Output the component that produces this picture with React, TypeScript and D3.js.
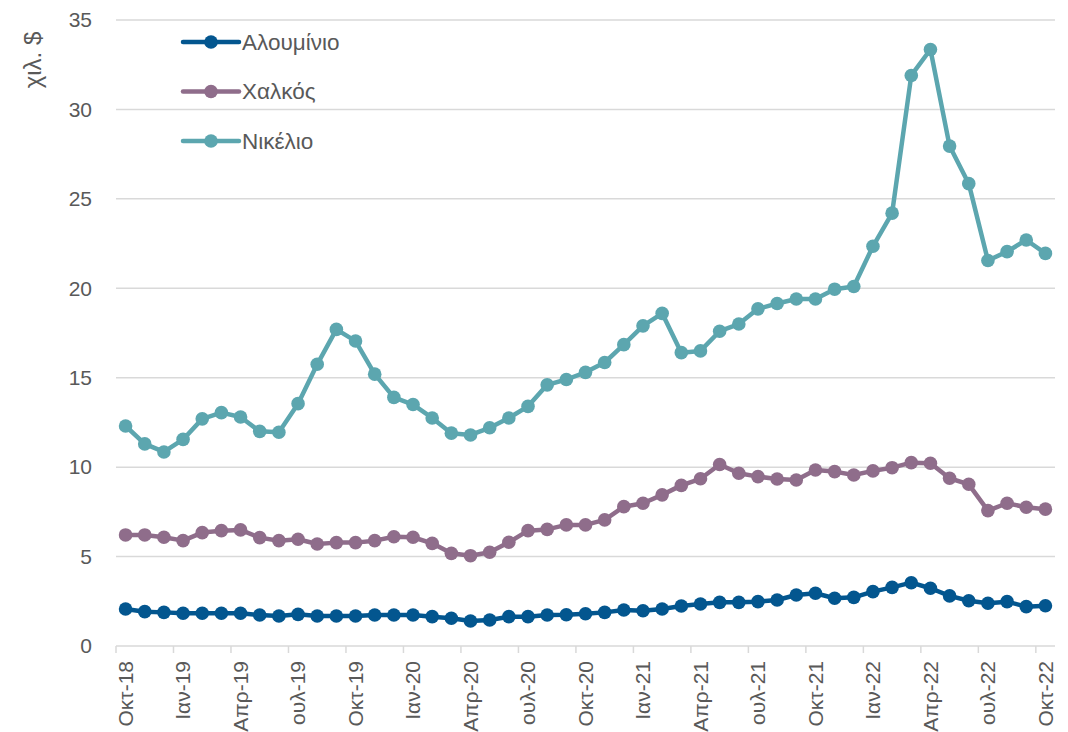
import * as d3 from "d3";

const tickLabels = [
  "Οκτ-18", "Ιαν-19", "Απρ-19", "ουλ-19",
  "Οκτ-19", "Ιαν-20", "Απρ-20", "ουλ-20",
  "Οκτ-20", "Ιαν-21", "Απρ-21", "ουλ-21",
  "Οκτ-21", "Ιαν-22", "Απρ-22", "ουλ-22",
  "Οκτ-22",
];

// monthly, Oct-18 .. Oct-22
const aluminium = [
  2.07, 1.92, 1.88, 1.83, 1.83, 1.83, 1.83, 1.73, 1.68, 1.77,
  1.68, 1.68, 1.68, 1.73, 1.73, 1.73, 1.64, 1.55, 1.4, 1.45,
  1.64, 1.64, 1.73, 1.75, 1.8, 1.88, 2.01, 1.97, 2.07, 2.24,
  2.35, 2.44, 2.44, 2.48, 2.57, 2.85, 2.95, 2.67, 2.72, 3.04,
  3.28, 3.54, 3.23, 2.8, 2.53, 2.39, 2.48, 2.2, 2.25,
];

const copper = [
  6.21, 6.21, 6.08, 5.89, 6.34, 6.45, 6.49, 6.06, 5.89, 5.97,
  5.7, 5.78, 5.78, 5.89, 6.11, 6.08, 5.74, 5.18, 5.05, 5.24,
  5.8, 6.45, 6.52, 6.77, 6.77, 7.05, 7.79, 7.98, 8.45, 8.98,
  9.35, 10.15, 9.66, 9.47, 9.34, 9.28, 9.84, 9.75, 9.56, 9.79,
  9.97, 10.25, 10.22, 9.38, 9.04, 7.57, 7.98, 7.76, 7.65,
];

const nickel = [
  12.3, 11.3, 10.85, 11.55, 12.7, 13.05, 12.8, 12.0, 11.95, 13.55,
  15.75, 17.7, 17.05, 15.2, 13.9, 13.5, 12.75, 11.9, 11.8, 12.2,
  12.75, 13.4, 14.6, 14.9, 15.3, 15.85, 16.85, 17.9, 18.6, 16.4,
  16.5, 17.6, 18.0, 18.85, 19.15, 19.4, 19.4, 19.95, 20.1, 22.35,
  24.2, 31.9, 33.35, 27.95, 25.85, 21.55, 22.05, 22.7, 21.95,
];

const seriesNames = ["Αλουμίνιο", "Χαλκός", "Νικέλιο"];
const seriesColors = ["#03568F", "#8F6D8B", "#5CA6AF"];
const yTicks = [0, 5, 10, 15, 20, 25, 30, 35];

const W = 1068;
const H = 732;
const margin = { top: 20, right: 13, bottom: 86, left: 116 };
const font = "'Liberation Sans', Arial, sans-serif";
const textColor = "#595959";

export default function App() {
  const series = [aluminium, copper, nickel];
  const months = d3.range(nickel.length);

  const x = d3
    .scaleBand<number>()
    .domain(months)
    .range([margin.left, W - margin.right])
    .padding(0);
  const y = d3
    .scaleLinear()
    .domain([0, 35])
    .range([H - margin.bottom, margin.top]);

  const cx = (i: number) => (x(i) as number) + x.bandwidth() / 2;
  const line = d3
    .line<number>()
    .x((_, i) => cx(i))
    .y((d) => y(d));

  const tickIdx = months.filter((i) => i % 3 === 0);

  return (
    <svg
      width={W}
      height={H}
      style={{ position: "absolute", left: 0, top: 0, background: "#fff" }}
      fontFamily={font}
    >
      {yTicks.map((t) => (
        <g key={t}>
          <line
            x1={margin.left}
            x2={W - margin.right}
            y1={y(t)}
            y2={y(t)}
            stroke="#D9D9D9"
            strokeWidth={1.5}
          />
          <text
            x={92}
            y={y(t)}
            dy="0.35em"
            textAnchor="end"
            fontSize={21}
            fill={textColor}
          >
            {t}
          </text>
        </g>
      ))}

      {tickIdx.map((i, k) => (
        <g key={i}>
          <line
            x1={x(i)}
            x2={x(i)}
            y1={y(0)}
            y2={y(0) + 7}
            stroke="#D9D9D9"
            strokeWidth={1.5}
          />
          <text
            transform={`translate(${cx(i)},${y(0) + 15}) rotate(-90)`}
            dy="0.35em"
            textAnchor="end"
            fontSize={21}
            fill={textColor}
          >
            {tickLabels[k]}
          </text>
        </g>
      ))}

      <text
        transform={`translate(33,60) rotate(-90)`}
        dy="0.35em"
        textAnchor="middle"
        fontSize={24}
        fill={textColor}
      >
        χιλ. $
      </text>

      {series.map((s, si) => (
        <g key={si}>
          <path
            d={line(s) ?? ""}
            fill="none"
            stroke={seriesColors[si]}
            strokeWidth={4.5}
            strokeLinejoin="round"
          />
          {s.map((v, i) => (
            <circle key={i} cx={cx(i)} cy={y(v)} r={6.8} fill={seriesColors[si]} />
          ))}
        </g>
      ))}

      {seriesNames.map((n, i) => {
        const ly = 42 + i * 49.5;
        return (
          <g key={n}>
            <line
              x1={183}
              x2={239}
              y1={ly}
              y2={ly}
              stroke={seriesColors[i]}
              strokeWidth={4.5}
              strokeLinecap="round"
            />
            <circle cx={211} cy={ly} r={6.8} fill={seriesColors[i]} />
            <text x={242} y={ly} dy="0.35em" fontSize={22.5} fill={textColor}>
              {n}
            </text>
          </g>
        );
      })}
    </svg>
  );
}
